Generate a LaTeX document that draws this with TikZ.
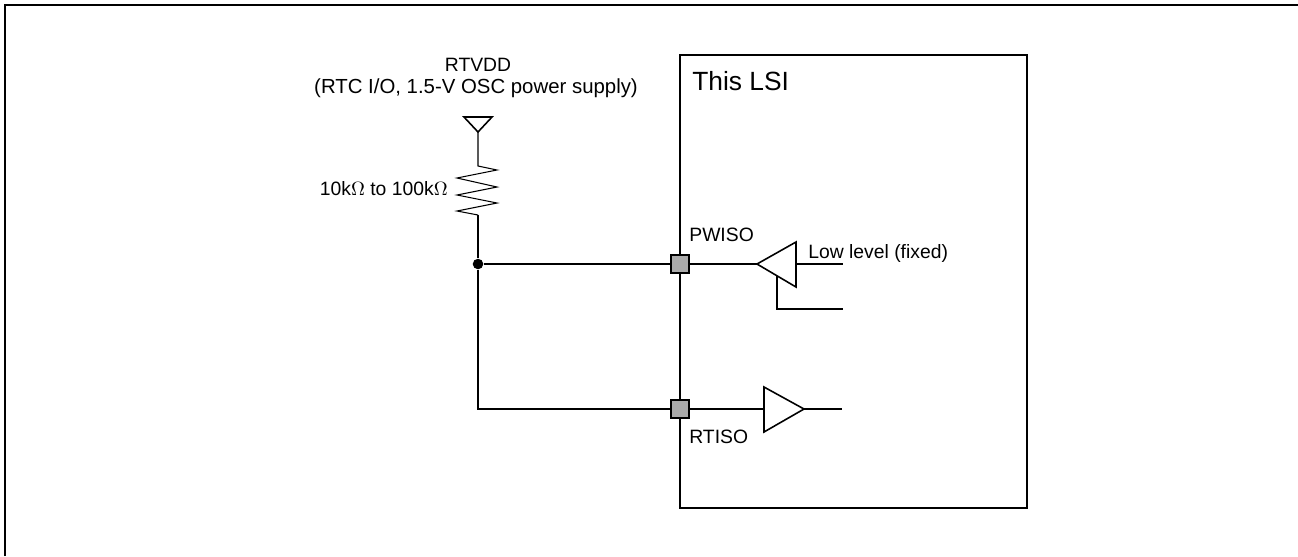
\documentclass[tikz,border=0pt]{standalone}
\usepackage{fontspec}
\setmainfont{Liberation Sans}
\begin{document}
\begin{tikzpicture}[
        x=0.02cm, y=-0.02cm,
        wire/.style={line width=0.6pt},
        pad/.style={rectangle, draw, line width=0.9pt, fill=black!33, minimum size=0.36cm, inner sep=0pt},
        buffer/.style={draw, line width=0.9pt, line join=miter},
        label/.style={font=\fontsize{11}{13}\selectfont, inner sep=0pt}
    ]
    \useasboundingbox (0,0) rectangle (1298,556);

        % Rahmen
        \draw[line width=1.5pt] (5,556) -- (5,5) -- (1298,5);

        % LSI
        \draw[line width=0.8pt] (680,55) rectangle (1027,508);
        \node[anchor=base west, inner sep=0pt, font=\fontsize{15}{17}\selectfont] (lsi) at (692,90) {This LSI};

        % Versorgung
        \node[label, anchor=base] (rtvdd) at (478,71) {RTVDD};
        \node[label, anchor=base, font=\fontsize{11.6}{13}\selectfont] (supply) at (476,93) {(RTC I/O, 1.5-V OSC power supply)};
        \draw[buffer] (464,117) -- (492,117) -- (478,132) -- cycle;
        \coordinate (vdd) at (478,132);

        % Widerstand
        \draw[wire] (vdd) -- (478,166) -- (497,170) -- (457,178) -- (497,187) -- (457,195)
            -- (497,203) -- (457,211) -- (478,215) coordinate (rbot);
        \node[label, anchor=base east] (rval) at (448,195) {10k$\Omega$ to 100k$\Omega$};

        % Anschluesse
        \node[pad] (pwiso) at (680,264) {};
        \node[pad] (rtiso) at (680,409) {};
        \node[label, anchor=base west] at (689,241) {PWISO};
        \node[label, anchor=base west] at (689,443) {RTISO};

        \node[circle, fill, inner sep=0pt, minimum size=6pt] (junc) at (478,264) {};
        \draw[wire] (rbot) -- (junc);
        \draw[wire] (junc) -- (pwiso);
        \draw[wire] (junc) |- (rtiso);

        % Eingangspuffer PWISO
        \coordinate (inap) at (757,264);
        \draw[buffer] (inap) -- (796,242) -- (796,287) -- cycle;
        \draw[wire] (pwiso) -- (inap);
        \draw[wire] (796,264) -- (843,264);
        \draw[wire] (777,276) |- (843,309);
        \node[label, anchor=base west] at (808,258) {Low level (fixed)};

        % Ausgangspuffer RTISO
        \coordinate (outin) at (764,409);
        \draw[buffer] (outin) -- (764,387) -- (804,409) -- (764,432) -- cycle;
        \draw[wire] (rtiso) -- (outin);
        \draw[wire] (804,409) -- (842,409);

    \end{tikzpicture}
\end{document}
